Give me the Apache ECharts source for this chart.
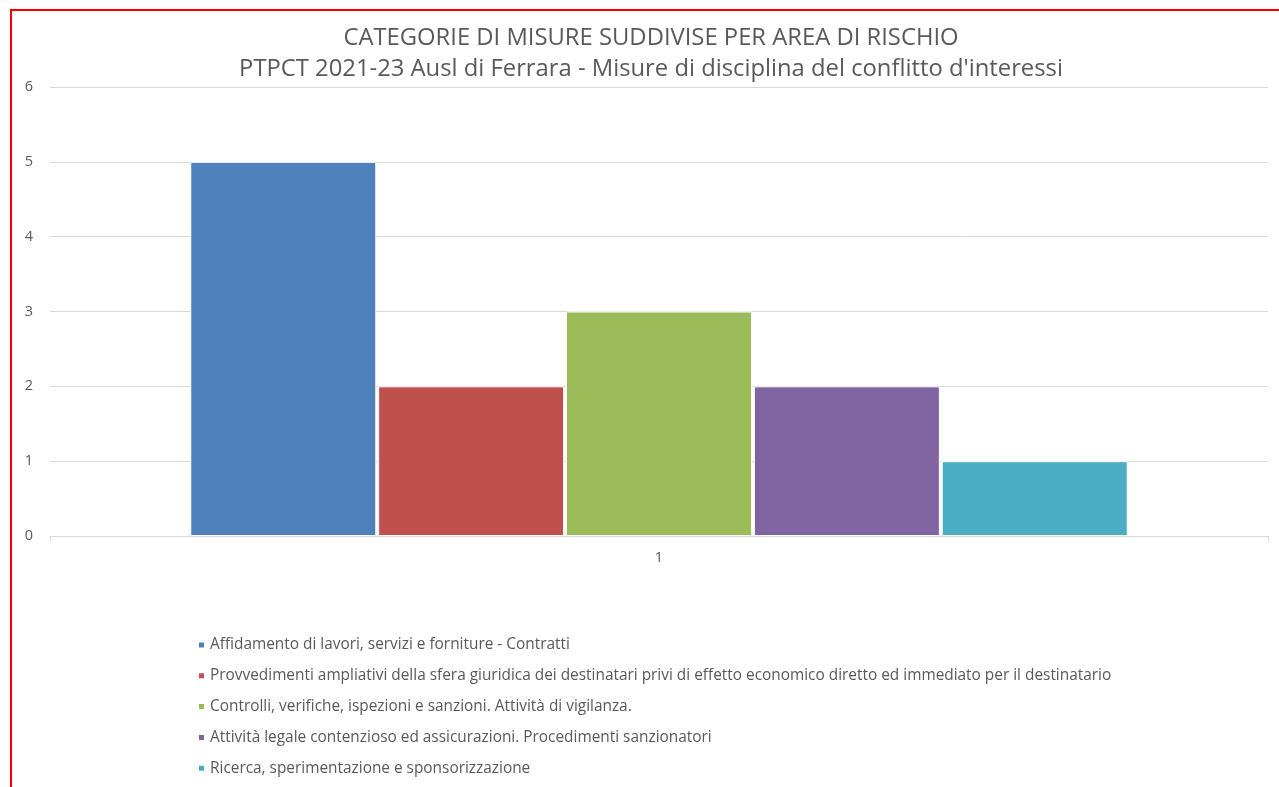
<!DOCTYPE html>
<html>
<head>
<meta charset="utf-8">
<script src="https://cdn.jsdelivr.net/npm/echarts@6/dist/echarts.min.js"></script>
<style>
  html, body { margin: 0; padding: 0; background: #fff; }
  #chart { width: 1279px; height: 787px; }
</style>
</head>
<body>
<div id="chart"></div>
<script>
// Categories on the x axis (one group)
const categories = ['1'];

// Risk areas (one series each) and their number of measures
const seriesNames = [
  'Affidamento di lavori, servizi e forniture - Contratti',
  'Provvedimenti ampliativi della sfera giuridica dei destinatari privi di effetto economico diretto ed immediato per il destinatario',
  'Controlli, verifiche, ispezioni e sanzioni. Attività di vigilanza.',
  'Attività legale contenzioso ed assicurazioni. Procedimenti sanzionatori',
  'Ricerca, sperimentazione e sponsorizzazione'
];
const seriesValues = [5, 2, 3, 2, 1];
const seriesColors = ['#4F81BD', '#C0504D', '#9BBB59', '#8064A2', '#4BACC6'];

const titleLines = [
  'CATEGORIE DI MISURE SUDDIVISE PER AREA DI RISCHIO',
  "PTPCT 2021-23 Ausl di Ferrara - Misure di disciplina del conflitto d'interessi"
];

const yMin = 0, yMax = 6, yStep = 1;

const textColor = '#595959';
const fontFamily = '"Open Sans", "Noto Sans", sans-serif';

const chart = echarts.init(document.getElementById('chart'), null, { renderer: 'canvas' });

chart.setOption({
  backgroundColor: '#ffffff',
  animation: false,
  title: {
    text: titleLines.join('\n'),
    left: 646,
    textAlign: 'center',
    top: 18,
    textStyle: {
      color: textColor,
      fontFamily: fontFamily,
      fontWeight: 'normal',
      fontSize: 23.8,
      lineHeight: 31
    }
  },
  graphic: [{
    type: 'rect',
    shape: { x: 11, y: 10, width: 1400, height: 900 },
    style: { fill: 'none', stroke: '#ff0000', lineWidth: 2 },
    silent: true,
    z: 100
  }],
  legend: {
    orient: 'vertical',
    left: 192,
    top: 632,
    icon: 'rect',
    itemWidth: 7,
    itemHeight: 7,
    itemGap: 14.8,
    data: seriesNames,
    textStyle: {
      color: textColor,
      fontFamily: fontFamily,
      fontSize: 15.4,
      lineHeight: 16
    }
  },
  grid: {
    left: 50,
    right: 11,
    top: 87,
    bottom: 251,
    containLabel: false
  },
  xAxis: {
    type: 'category',
    data: categories,
    axisLine: { lineStyle: { color: '#d9d9d9', width: 1 } },
    axisTick: { show: true, length: 5, lineStyle: { color: '#d9d9d9' } },
    axisLabel: {
      color: textColor,
      fontFamily: fontFamily,
      fontSize: 14.5,
      margin: 14
    }
  },
  yAxis: {
    type: 'value',
    min: yMin,
    max: yMax,
    interval: yStep,
    axisLine: { show: false },
    axisTick: { show: false },
    splitLine: { lineStyle: { color: '#d9d9d9', width: 1 } },
    axisLabel: {
      color: textColor,
      fontFamily: fontFamily,
      fontSize: 14.5,
      margin: 17
    }
  },
  series: seriesNames.map((name, i) => ({
    name: name,
    type: 'bar',
    data: [seriesValues[i]],
    barWidth: 186,
    barGap: '1%',
    itemStyle: {
      color: seriesColors[i],
      borderColor: '#ffffff',
      borderWidth: 1
    }
  }))
});
</script>
</body>
</html>
